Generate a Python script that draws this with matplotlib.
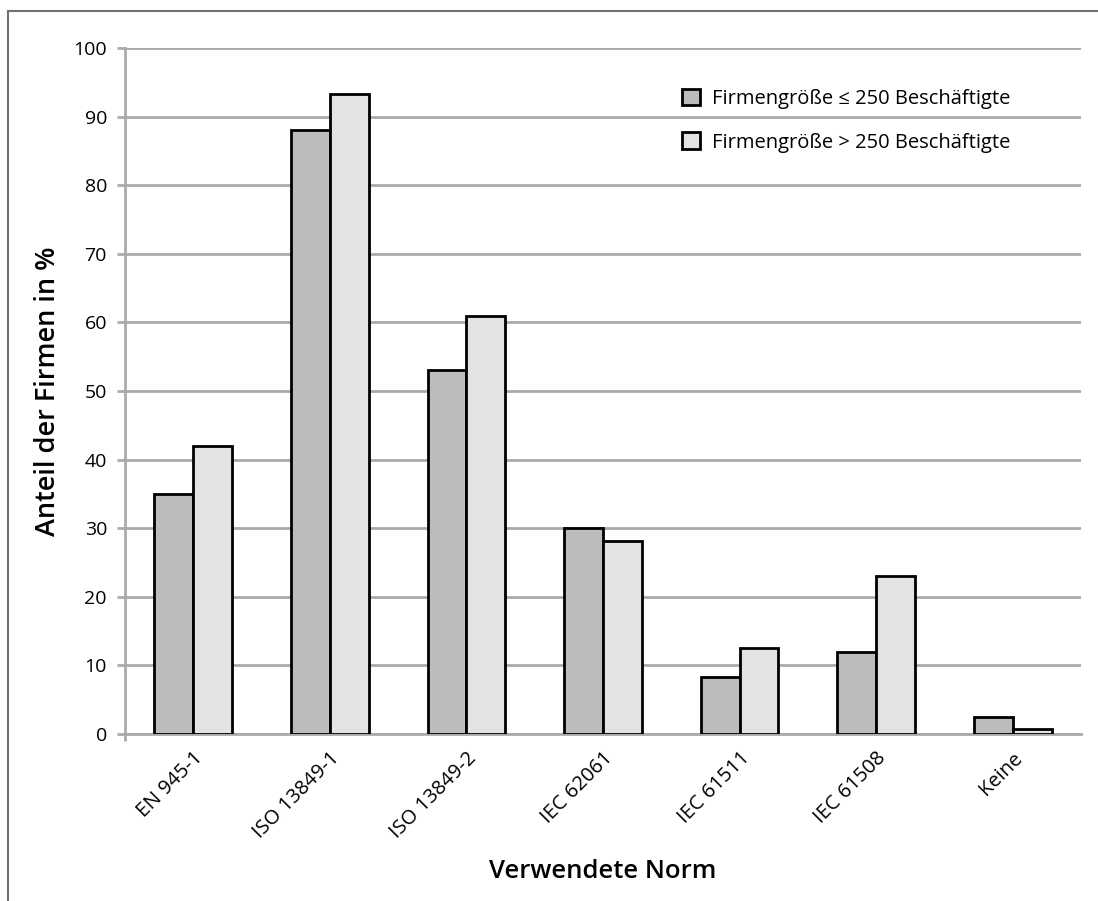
import numpy as np
import matplotlib.pyplot as plt
from matplotlib.patches import Rectangle

plt.rcParams['font.family'] = ['Open Sans', 'DejaVu Sans']

# Data
normen = ['EN 945-1', 'ISO 13849-1', 'ISO 13849-2', 'IEC 62061',
          'IEC 61511', 'IEC 61508', 'Keine']
klein = [35, 88, 53.1, 30, 8.3, 12, 2.5]
gross = [42, 93.3, 60.9, 28.1, 12.5, 23.1, 0.8]
label_klein = 'Firmengröße ≤ 250 Beschäftigte'
label_gross = 'Firmengröße > 250 Beschäftigte'
y_ticks = list(range(0, 101, 10))

fig = plt.figure(figsize=(10.98, 9.01), dpi=100)
ax = fig.add_axes([125 / 1098, 1 - 734 / 901, (1081 - 125) / 1098, (734 - 48) / 901])

# outer frame (only left and top edge visible in the picture)
fig.patches.append(Rectangle((8 / 1098, -0.1), 1.2, 1 - 11 / 901 + 0.1,
                             transform=fig.transFigure, fill=False,
                             edgecolor='#707070', linewidth=1.5))

x = np.arange(len(normen))
w = 0.285
ax.bar(x - w / 2, klein, w, color='#bcbcbc', edgecolor='black', linewidth=2,
       label=label_klein, zorder=3)
ax.bar(x + w / 2, gross, w, color='#e3e3e3', edgecolor='black', linewidth=2,
       label=label_gross, zorder=3)

ax.set_xlim(-0.5, len(normen) - 0.5)
ax.set_ylim(0, 100)
ax.set_yticks(y_ticks)
ax.yaxis.grid(True, color='#aaaaaa', linewidth=2)
ax.set_axisbelow(True)

for s in ['top', 'right']:
    ax.spines[s].set_visible(False)
ax.spines['left'].set_color('#aaaaaa')
ax.spines['left'].set_linewidth(2)
ax.spines['bottom'].set_color('#aaaaaa')
ax.spines['bottom'].set_linewidth(2)

ax.tick_params(axis='y', length=6, width=2, color='#aaaaaa', labelsize=14, pad=7)
ax.tick_params(axis='x', length=0, labelsize=14.5, pad=10)
ax.set_xticks(x)
ax.set_xticklabels(normen, rotation=45, ha='right', va='top', rotation_mode='anchor')
# small tick below the corner of the axes
ax.set_xticks([-0.5], minor=True)
ax.tick_params(axis='x', which='minor', length=5, width=2, color='#aaaaaa')

ax.set_ylabel('Anteil der Firmen in %', fontsize=19.5, fontweight='semibold', labelpad=8)
ax.set_xlabel('Verwendete Norm', fontsize=18.5, fontweight='semibold', labelpad=12)

leg = ax.legend(loc='upper right', bbox_to_anchor=(0.945, 0.967), frameon=False,
                fontsize=14.5, handlelength=0.9, handleheight=0.9,
                labelspacing=1.15, handletextpad=0.6)

fig.savefig('out.png', dpi=100)
